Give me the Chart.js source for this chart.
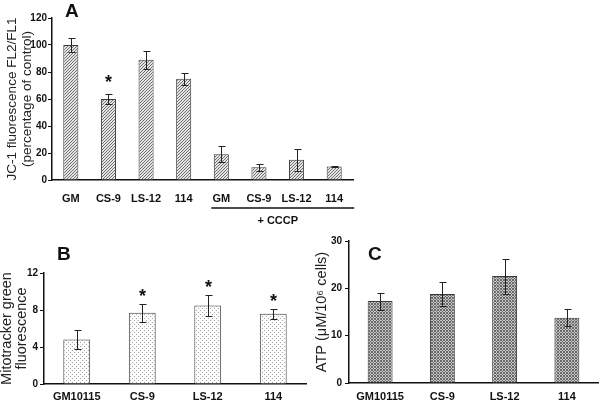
<!DOCTYPE html>
<html lang="en">
<head>
<meta charset="UTF-8">
<title>JC-1, Mitotracker and ATP</title>
<script src="https://cdn.jsdelivr.net/npm/chart.js@4.4.0/dist/chart.umd.min.js"></script>
<style>
  body { margin: 0; background: #fff; font-family: 'Liberation Sans', Arial, sans-serif; }
  #wrap { position: relative; width: 600px; height: 405px; overflow: hidden; }
  .box { position: absolute; }
  .letter { position: absolute; font-weight: bold; font-size: 19px; line-height: 1; color: #111; }
</style>
</head>
<body>
<div id="wrap">
  <div class="box" style="left:0;top:0;width:360px;height:230px"><canvas id="chartA"></canvas></div>
  <div class="box" style="left:0;top:230px;width:310px;height:175px"><canvas id="chartB"></canvas></div>
  <div class="box" style="left:310px;top:230px;width:290px;height:175px"><canvas id="chartC"></canvas></div>
  <div class="letter" style="left:65px;top:1px">A</div>
  <div class="letter" style="left:57px;top:244px">B</div>
  <div class="letter" style="left:368px;top:244px">C</div>
</div>
<script>
// panel A - JC-1
const labelsA = ['GM', 'CS-9', 'LS-12', '114', 'GM', 'CS-9', 'LS-12', '114'];
const valuesA = [100, 60, 89, 75, 19, 9.5, 15, 10];
const errorsA = [5, 4, 6.5, 4.5, 6, 2.5, 8, 0.5];
const starsA = ['', '*', '', '', '', '', '', ''];
const groupA = { label: '+ CCCP', from: 4, to: 7 };
const ticksA = { min: 0, max: 120, step: 20 };

// panel B - Mitotracker
const labelsB = ['GM10115', 'CS-9', 'LS-12', '114'];
const valuesB = [4.8, 7.7, 8.5, 7.6];
const errorsB = [1.0, 1.0, 1.1, 0.55];
const starsB = ['', '*', '*', '*'];
const ticksB = { min: 0, max: 12, step: 4 };

// panel C - ATP
const labelsC = ['GM10115', 'CS-9', 'LS-12', '114'];
const valuesC = [17.3, 18.8, 22.6, 13.8];
const errorsC = [1.8, 2.5, 3.7, 1.8];
const ticksC = { min: 0, max: 30, step: 10 };

const plotFont = "'Liberation Sans', Arial, sans-serif";

function makePattern(size, bg, fg, isDark) {
  const c = document.createElement('canvas');
  c.width = size; c.height = size;
  const g = c.getContext('2d');
  g.fillStyle = bg; g.fillRect(0, 0, size, size);
  g.fillStyle = fg;
  for (let x = 0; x < size; x++)
    for (let y = 0; y < size; y++)
      if (isDark(x, y)) g.fillRect(x, y, 1, 1);
  return g.createPattern(c, 'repeat');
}

const hatchA = makePattern(3, '#e4e4e4', '#707070', (x, y) => (x + y) % 3 === 2);
const dotsB = makePattern(4, '#fbfbfb', '#a8a8a8', (x, y) => (x === 0 && y === 0) || (x === 2 && y === 2));
const crossC = makePattern(3, '#c6c6c6', '#6a6a6a', (x, y) => (x + y) % 3 === 0 || (x - y + 3) % 3 === 0);

const errorBarPlugin = {
  id: 'errorBars',
  afterDatasetsDraw(chart, args, opts) {
    const meta = chart.getDatasetMeta(0);
    const y = chart.scales.y;
    const vals = chart.data.datasets[0].data;
    const ctx = chart.ctx;
    ctx.save();
    ctx.strokeStyle = '#222';
    ctx.lineWidth = 1;
    meta.data.forEach((bar, i) => {
      const e = opts.errors[i];
      const top = Math.round(y.getPixelForValue(vals[i] + e)) + 0.5;
      const bot = Math.round(y.getPixelForValue(vals[i] - e)) + 0.5;
      const x = Math.round(bar.x) + 0.5;
      ctx.beginPath();
      ctx.moveTo(x, top); ctx.lineTo(x, bot);
      ctx.moveTo(x - opts.cap, top); ctx.lineTo(x + opts.cap + 1, top);
      ctx.moveTo(x - opts.cap, bot); ctx.lineTo(x + opts.cap + 1, bot);
      ctx.stroke();
      if (opts.stars && opts.stars[i]) {
        ctx.fillStyle = '#111';
        ctx.font = 'bold 18px ' + plotFont;
        ctx.textAlign = 'center';
        ctx.textBaseline = 'middle';
        ctx.fillText(opts.stars[i], x, top - opts.starGap);
      }
    });
    ctx.restore();
  }
};

const groupPlugin = {
  id: 'groupBracket',
  afterDraw(chart, args, opts) {
    if (!opts.label) return;
    const xs = chart.scales.x;
    const ctx = chart.ctx;
    const x0 = xs.getPixelForValue(opts.from) - 10;
    const x1 = xs.getPixelForValue(opts.to) + 20;
    const yLine = xs.top + 28;
    ctx.save();
    ctx.strokeStyle = '#111';
    ctx.lineWidth = 1.5;
    ctx.beginPath();
    ctx.moveTo(x0, yLine); ctx.lineTo(x1, yLine);
    ctx.stroke();
    ctx.fillStyle = '#111';
    ctx.font = 'bold 11px ' + plotFont;
    ctx.textAlign = 'center';
    ctx.textBaseline = 'middle';
    const xm = (xs.getPixelForValue(opts.from) + xs.getPixelForValue(opts.to)) / 2;
    ctx.fillText(opts.label, xm, yLine + 13);
    ctx.restore();
  }
};

function buildChart(id, cfg) {
  return new Chart(document.getElementById(id), {
    type: 'bar',
    data: {
      labels: cfg.labels,
      datasets: [{
        data: cfg.values,
        backgroundColor: cfg.fill,
        borderColor: '#3a3a3a',
        borderWidth: 1,
        borderSkipped: 'bottom',
        barPercentage: cfg.barPct,
        categoryPercentage: 1
      }]
    },
    options: {
      responsive: true,
      maintainAspectRatio: false,
      animation: false,
      layout: { padding: cfg.padding },
      plugins: {
        legend: { display: false },
        tooltip: { enabled: false },
        errorBars: { errors: cfg.errors, stars: cfg.stars, starGap: cfg.starGap, cap: 3 },
        groupBracket: cfg.group || {}
      },
      scales: {
        x: {
          grid: { display: false, drawTicks: false, tickLength: 0 },
          border: { color: '#111', width: 1.5 },
          ticks: {
            color: '#111', padding: cfg.xPad, maxRotation: 0, autoSkip: false,
            font: { family: plotFont, size: 11, weight: 'bold' }
          },
          afterFit: s => { s.height = cfg.xHeight; }
        },
        y: {
          min: cfg.ticks.min, max: cfg.ticks.max,
          grid: { drawOnChartArea: false, drawTicks: true, tickLength: 4, color: '#111', lineWidth: 1 },
          border: { color: '#111', width: 1.5 },
          ticks: {
            stepSize: cfg.ticks.step, color: '#111', padding: cfg.yPad,
            font: { family: plotFont, size: 10, weight: 'bold' }
          },
          title: {
            display: true, text: cfg.title, color: '#222',
            padding: { top: cfg.titlePad, bottom: 0 },
            font: { family: plotFont, size: cfg.titleSize, lineHeight: cfg.titleLH }
          },
          afterFit: s => { s.width = cfg.yWidth; }
        }
      }
    },
    plugins: cfg.group ? [errorBarPlugin, groupPlugin] : [errorBarPlugin]
  });
}

buildChart('chartA', {
  labels: labelsA, values: valuesA, errors: errorsA, stars: starsA, group: groupA, ticks: ticksA,
  fill: hatchA, barPct: 0.4, starGap: 11,
  padding: { left: 0, right: 7, top: 18, bottom: 0 },
  xHeight: 50, xPad: 12, yWidth: 52, yPad: 1,
  title: ['JC-1 fluorescence FL2/FL1', '(percentage of control)'], titleSize: 13.5, titleLH: 1.08, titlePad: 5
});

buildChart('chartB', {
  labels: labelsB, values: valuesB, errors: errorsB, stars: starsB, ticks: ticksB,
  fill: dotsB, barPct: 0.41, starGap: 7,
  padding: { left: 0, right: 4, top: 43, bottom: 0 },
  xHeight: 21, xPad: 6, yWidth: 44, yPad: 2,
  title: ['Mitotracker green', 'fluorescence'], titleSize: 14.5, titleLH: 1.03, titlePad: 0
});

buildChart('chartC', {
  labels: labelsC, values: valuesC, errors: errorsC, stars: null, ticks: ticksC,
  fill: crossC, barPct: 0.4, starGap: 0,
  padding: { left: 0, right: 2, top: 11, bottom: 0 },
  xHeight: 22, xPad: 7, yWidth: 39, yPad: 3,
  title: 'ATP (\u03BCM/10\u2076 cells)', titleSize: 14.5, titleLH: 1.15, titlePad: 4
});
</script>
</body>
</html>
